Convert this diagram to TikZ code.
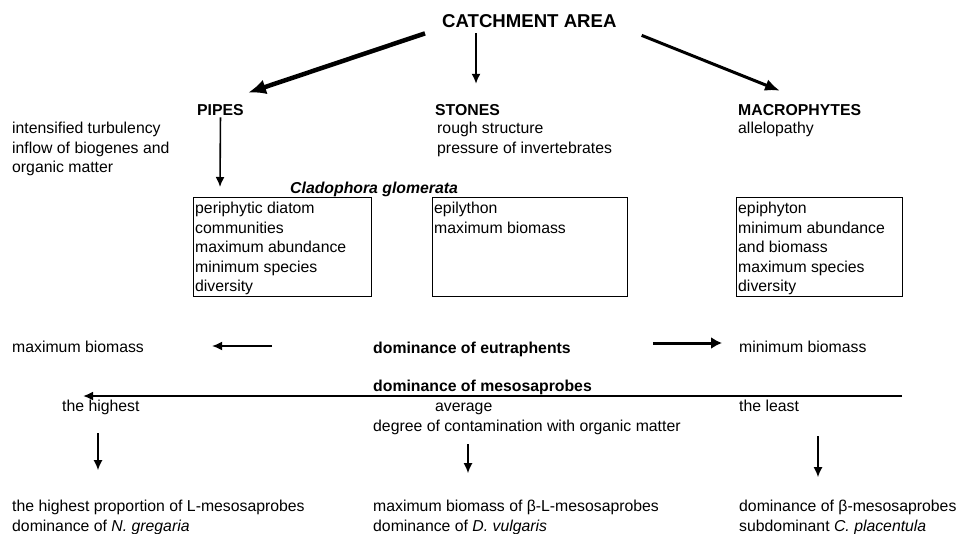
\documentclass[tikz,border=0pt]{standalone}
\usepackage{fontspec}
\setmainfont{Liberation Sans}
\usepackage{tikz}
\usetikzlibrary{arrows.meta}
\tikzset{>={Latex[length=10pt, width=9pt]}}
\tikzset{
	txt/.style={inner sep=0pt, anchor=base west, font=\fontsize{15.8}{19.5}\selectfont},
	head/.style={txt, font=\fontsize{15.8}{19.5}\selectfont\bfseries},
	lines/.style={txt, anchor=north west, align=left},
	cbox/.style={draw, line width=1.4pt, anchor=north west, inner sep=0pt},
	arr/.style={line width=1.6pt, ->},
	widearr/.style={line width=3pt, -{Latex[length=11pt, width=12pt]}},
	midarr/.style={line width=3pt, -{Latex[length=15pt, width=12pt]}},
	bigarr/.style={line width=4.5pt, -{Latex[length=18pt, width=15pt]}}
}

\begin{document}
\begin{tikzpicture}[x=1pt, y=-1pt]
	\useasboundingbox (0, 0) rectangle (957, 533);
	\node[head, font=\fontsize{18.6}{22}\selectfont\bfseries] (catch) at (442, 27) {CATCHMENT AREA};
	\node[head] (pipes) at (197, 115) {PIPES};
	\node[head] (stones) at (435, 115) {STONES};
	\node[head] (macro) at (738, 115) {MACROPHYTES};
	\node[lines] (pipesnote) at (12, 122.2) {intensified turbulency\\inflow of biogenes and\\organic matter};
	\node[lines] (stonesnote) at (437, 122.2) {rough structure\\pressure of invertebrates};
	\node[lines] (macronote) at (738, 122.2) {allelopathy};
	\node[txt, font=\fontsize{15.8}{19.5}\selectfont\bfseries\itshape] (clado) at (290, 193) {Cladophora glomerata};
	\node[cbox, minimum width=178, minimum height=99] (pipesbox) at (193, 197) {};
	\node[cbox, minimum width=195, minimum height=99] (stonesbox) at (432, 197) {};
	\node[cbox, minimum width=166, minimum height=99] (macrobox) at (736, 197) {};
	\node[lines] (pipestext) at ([shift={(2, 5)}]pipesbox.north west) {periphytic diatom\\communities\\maximum abundance\\minimum species\\diversity};
	\node[lines] (stonestext) at ([shift={(2, 5)}]stonesbox.north west) {epilython\\maximum biomass};
	\node[lines] (macrotext) at ([shift={(2, 5)}]macrobox.north west) {epiphyton\\minimum abundance\\and biomass\\maximum species\\diversity};
	\node[txt] (maxbio) at (12, 352.5) {maximum biomass};
	\node[head] (eutr) at (373, 353.5) {dominance of eutraphents};
	\node[txt] (minbio) at (739, 352.5) {minimum biomass};
	\node[head] (meso) at (373, 391.5) {dominance of mesosaprobes};
	\node[txt] (high) at (62, 411) {the highest};
	\node[txt] (avg) at (435, 411) {average};
	\node[txt] (least) at (739, 411) {the least};
	\node[txt] (degree) at (373, 431) {degree of contamination with organic matter};
	\node[lines] (res1) at (12, 500.2) {the highest proportion of L-mesosaprobes\\dominance of \textit{N. gregaria}};
	\node[lines] (res2) at (373, 500.2) {maximum biomass of β-L-mesosaprobes\\dominance of \textit{D. vulgaris}};
	\node[lines] (res3) at (739, 500.2) {dominance of β-mesosaprobes\\subdominant \textit{C. placentula}};
	\draw[bigarr]([shift={(-17, 6)}]catch.south west)--([shift={(4, -11)}]pipes.north east);
	\draw[arr]([shift={(34, 6)}]catch.south west)--([shift={(41, -20)}]stones.north west);
	\draw[midarr]([shift={(25, 8)}]catch.south east)--([shift={(42, -13)}]macro.north west);
	\draw[arr]([yshift=-2]pipes.south)--([shift={(27, -10)}]pipesbox.north west);
	\draw[arr]([shift={(-101, -7.5)}]eutr.base west)--([shift={(68, -6.5)}]maxbio.base east);
	\draw[widearr]([shift={(82, -10.5)}]eutr.base east)--([shift={(-17, -9.5)}]minbio.base west);
	\draw[line width=2pt, ->]([shift={(163, -15)}]least.base west)--([shift={(21, -15)}]high.base west);
	\draw[arr]([shift={(36, 22)}]high.base west)--([shift={(86, -30)}]res1.north west);
	\draw[arr]([shift={(95, 13)}]degree.base west)--([shift={(95, -27)}]res2.north west);
	\draw[arr]([shift={(79, 25)}]least.base west)--([shift={(79, -23)}]res3.north west);
\end{tikzpicture}
\end{document}
